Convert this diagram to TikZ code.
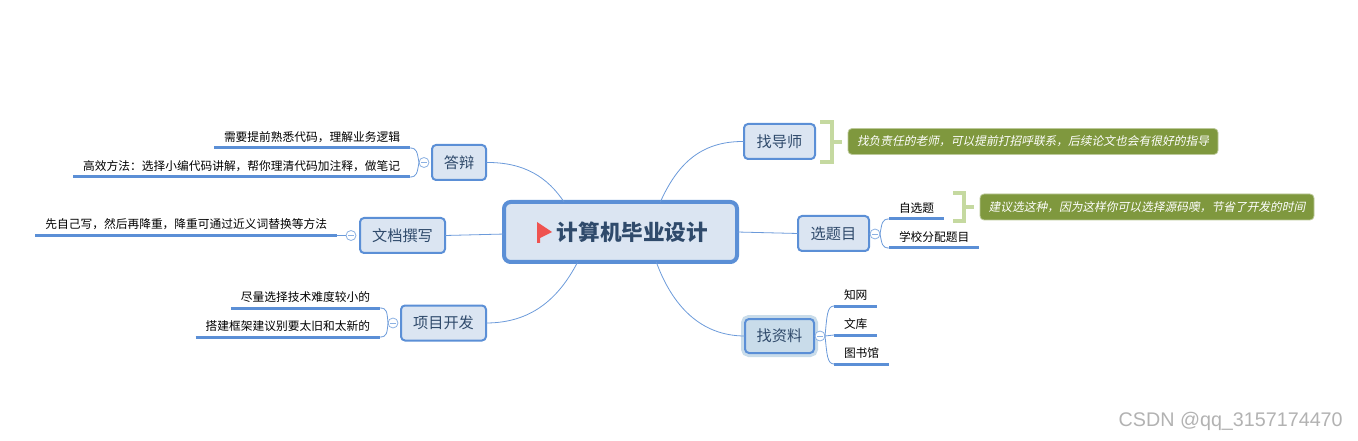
\documentclass[tikz,border=0pt]{standalone}
\usepackage{fontspec}
\usepackage{xcolor}
\setmainfont{Noto Sans CJK SC}
\newfontfamily\slantcjk[FakeSlant=0.2]{Noto Sans CJK SC}
\newfontfamily\markfont{Liberation Sans}
\definecolor{mapblue}{HTML}{5B8FD6}
\definecolor{mapfill}{HTML}{DBE5F2}
\definecolor{mapink}{HTML}{2F4A6B}
\definecolor{halofill}{HTML}{C9DCEA}
\definecolor{notefill}{HTML}{7F983E}
\definecolor{noteedge}{HTML}{BCC99A}
\definecolor{bracketcol}{HTML}{C5D9A0}
\definecolor{flagred}{HTML}{EF5350}
\tikzset{
  topic/.style={draw=mapblue, line width=1.5pt, fill=mapfill, rounded corners=3pt, text=mapink,
    font=\fontsize{11.4}{13}\selectfont, minimum height=26.25pt, inner sep=0pt, outer sep=0pt},
  leaf/.style={font=\fontsize{8.8}{10}\selectfont, inner xsep=7.5pt, inner ysep=0pt, minimum height=16.5pt, outer sep=0pt},
  note/.style={draw=noteedge, line width=.6pt, fill=notefill, rounded corners=3pt, text=white,
    font=\slantcjk\fontsize{8.8}{10}\selectfont, inner sep=0pt, outer sep=0pt, minimum height=19.5pt},
  dot/.style={circle, draw=mapblue!70, line width=.6pt, fill=white, minimum size=7.5pt, inner sep=0pt, outer sep=0pt,
    path picture={\draw[mapblue!70, line width=.6pt] ([xshift=-2pt]path picture bounding box.center) -- ([xshift=2pt]path picture bounding box.center);}},
  link/.style={draw=mapblue!90, line width=.6pt},
  under/.style={draw=mapblue, line width=2.25pt},
  bracket/.style={draw=bracketcol, line width=3pt},
}
\begin{document}
\begin{tikzpicture}[x=0.75pt, y=-0.75pt]
\useasboundingbox (0,0) rectangle (1358,441);
% centre
\node[topic, line width=3pt, rounded corners=5pt, minimum width=174.75pt, minimum height=45pt,
  font=\bfseries\fontsize{16.2}{18}\selectfont, text=mapink] (root) at (620.5,232) {\hspace*{18pt}计算机毕业设计};
\fill[flagred, shift={(root.center)}] (-83.5,-10) -- (-68.5,0) -- (-80.5,6) -- (-80.5,11) -- (-83.5,11) -- cycle;
% left side
\node[topic, minimum width=40.5pt] (dabian) at (459,162.5) {答辩};
\node[topic, minimum width=63.75pt] (wendang) at (402.5,235.5) {文档撰写};
\node[topic, minimum width=63.75pt] (xiangmu) at (443.5,323) {项目开发};
\node[leaf, anchor=south east] (dabianA) at (410,148) {需要提前熟悉代码，理解业务逻辑};
\node[leaf, anchor=south east] (dabianB) at (410,177) {高效方法：选择小编代码讲解，帮你理清代码加注释，做笔记};
\node[leaf, anchor=south east] (wendangA) at (337,235.5) {先自己写，然后再降重，降重可通过近义词替换等方法};
\node[leaf, anchor=south east] (xiangmuA) at (380,308) {尽量选择技术难度较小的};
\node[leaf, anchor=south east] (xiangmuB) at (380,337) {搭建框架建议别要太旧和太新的};
\node[dot] (dabianDot) at (424,162.5) {};
\node[dot] (wendangDot) at (351,235.5) {};
\node[dot] (xiangmuDot) at (393,323) {};
% right side
\node[topic, minimum width=53.25pt] (daoshi) at (779.5,141.5) {找导师};
\node[topic, minimum width=53.25pt] (xuanti) at (833.5,233.5) {选题目};
\node[topic, minimum width=51.75pt, minimum height=25.5pt, fill=halofill, preaction={draw=halofill, line width=6pt}] (ziliao) at (779.5,336) {找资料};
\node[leaf, anchor=south west] (xuantiA) at (889,219) {自选题};
\node[leaf, anchor=south west] (xuantiB) at (889,248) {学校分配题目};
\node[leaf, anchor=south west] (ziliaoA) at (834,306) {知网};
\node[leaf, anchor=south west] (ziliaoB) at (834,335) {文库};
\node[leaf, anchor=south west] (ziliaoC) at (834,364) {图书馆};
\node[dot] (xuantiDot) at (875,234) {};
\node[dot] (ziliaoDot) at (820,336) {};
\node[note, minimum width=277.5pt] (noteA) at (1033,141.5) {找负责任的老师，可以提前打招呼联系，后续论文也会有很好的指导};
\node[note, minimum width=250.5pt] (noteB) at (1147,207) {建议选这种，因为这样你可以选择源码噢，节省了开发的时间};
% main branches
\draw[link] (dabian.east) .. controls (525,162) and (548,178) .. (root.152);
\draw[link] (wendang.east) -- (root.181);
\draw[link] (xiangmu.east) .. controls (530,323) and (558,300) .. (root.215);
\draw[link] (daoshi.west) .. controls (700,141) and (677,165) .. (root.37);
\draw[link] (xuanti.west) -- (root.-0.5);
\draw[link] (ziliao.west) .. controls (700,336) and (672,305) .. (root.-40.5);
% underlines
\foreach \n in {dabianA,dabianB,wendangA,xiangmuA,xiangmuB}
  \draw[under] (\n.south west) -- (\n.south east);
\foreach \n in {xuantiA,xuantiB,ziliaoA,ziliaoB,ziliaoC}
  \draw[under] (\n.south west) -- (\n.south east);
% sub branches
\draw[link] (dabianDot.west) .. controls (417,152) and (417,148) .. (dabianA.south east);
\draw[link] (dabianDot.west) .. controls (417,173) and (417,177) .. (dabianB.south east);
\draw[link] (wendangDot.west) -- (wendangA.south east);
\draw[link] (xiangmuDot.west) .. controls (387,312) and (387,308) .. (xiangmuA.south east);
\draw[link] (xiangmuDot.west) .. controls (387,333) and (387,337) .. (xiangmuB.south east);
\draw[link] (xuantiDot.east) .. controls (882,223) and (882,219) .. (xuantiA.south west);
\draw[link] (xuantiDot.east) .. controls (882,244) and (882,248) .. (xuantiB.south west);
\draw[link] (ziliaoDot.east) .. controls (827,316) and (827,306) .. (ziliaoA.south west);
\draw[link] (ziliaoDot.east) -- (ziliaoB.south west);
\draw[link] (ziliaoDot.east) .. controls (827,354) and (827,364) .. (ziliaoC.south west);
% brackets
\coordinate (tickA) at (842,142);
\coordinate (tickB) at (974,207.5);
\draw[bracket] (820,122) -- (832,122) -- (832,162) -- (820,162);
\draw[bracket] (832,142) -- (tickA);
\draw[bracket] (953,193.5) -- (964,193.5) -- (964,221.5) -- (953,221.5);
\draw[bracket] (964,207.5) -- (tickB);
\node[anchor=east, text=black!30, font=\markfont\fontsize{14.8}{16}\selectfont, inner sep=0pt] (mark) at (1343,421) {CSDN @qq\_3157174470};
\end{tikzpicture}
\end{document}
